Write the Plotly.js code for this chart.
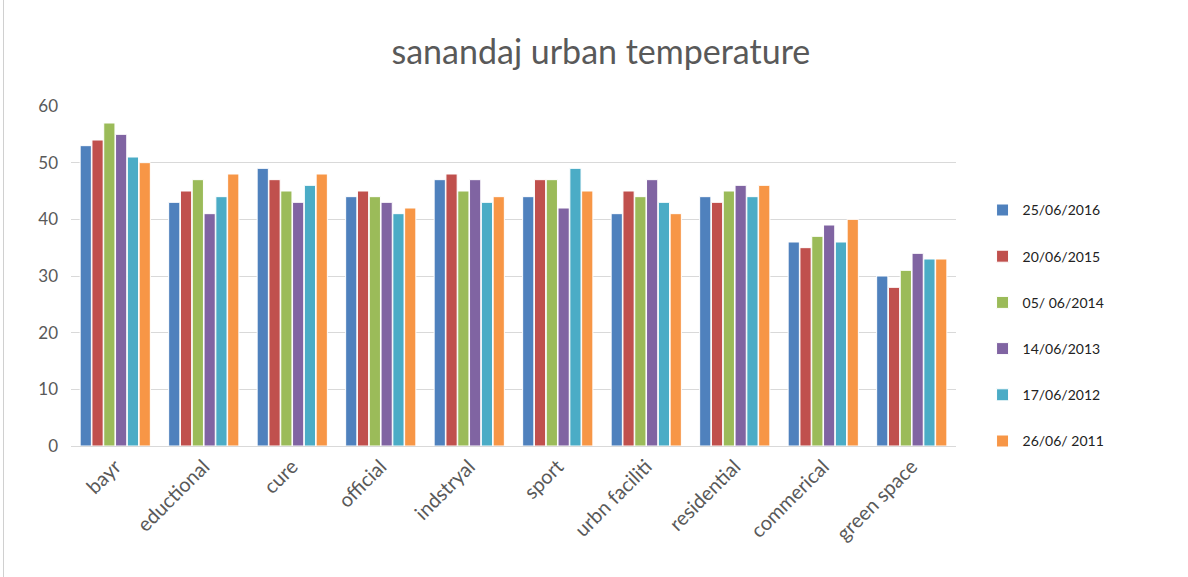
<!DOCTYPE html>
<html>
<head>
<meta charset="utf-8">
<script src="https://cdn.plot.ly/plotly-3.0.1.min.js"></script>
<style>
  html, body { margin: 0; padding: 0; background: #fff; }
  #chart { height: 577px; box-sizing: border-box; border-left: 1px solid #d0d0d0; border-right: 1px solid #d0d0d0; margin-left: 3px; width: 1182px; }
</style>
</head>
<body>
<div id="chart"></div>
<script>
const categories = ["bayr", "eductional", "cure", "official", "indstryal", "sport", "urbn faciliti", "residential", "commerical", "green space"];
const seriesNames = ["25/06/2016", "20/06/2015", "05/ 06/2014", "14/06/2013", "17/06/2012", "26/06/ 2011"];
const d2016 = [53, 43, 49, 44, 47, 44, 41, 44, 36, 30];
const d2015 = [54, 45, 47, 45, 48, 47, 45, 43, 35, 28];
const d2014 = [57, 47, 45, 44, 45, 47, 44, 45, 37, 31];
const d2013 = [55, 41, 43, 43, 47, 42, 47, 46, 39, 34];
const d2012 = [51, 44, 46, 41, 43, 49, 43, 44, 36, 33];
const d2011 = [50, 48, 48, 42, 44, 45, 41, 46, 40, 33];

const colors = ["#4f81bd", "#c0504d", "#9bbb59", "#8064a2", "#4bacc6", "#f79646"];
const allValues = [d2016, d2015, d2014, d2013, d2012, d2011];

const traces = allValues.map((vals, i) => ({
  type: "bar",
  x: categories,
  y: vals,
  name: seriesNames[i],
  legendgroup: "g" + i,
  marker: { color: colors[i], line: { color: "#ffffff", width: 1 } },
  hoverinfo: "x+y+name",
}));

const layout = {
  paper_bgcolor: "#ffffff",
  plot_bgcolor: "#ffffff",
  font: { family: "Lato, 'Open Sans', sans-serif", color: "#595959", size: 16 },
  margin: { l: 67, r: 230, t: 106, b: 131 },
  title: { text: "sanandaj urban temperature", x: 0.505, xanchor: "center", y: 0.91, yanchor: "middle", font: { size: 34, color: "#595959" } },
  barmode: "group",
  bargap: 0.2,
  bargroupgap: 0.05,
  xaxis: { tickangle: -45, showgrid: false, showline: true, linecolor: "#d9d9d9", linewidth: 1, ticks: "", tickfont: { size: 20 } },
  yaxis: { range: [0, 60], dtick: 10, gridcolor: "#d9d9d9", gridwidth: 1, zeroline: false, ticks: "", ticklabelstandoff: 12, tickfont: { size: 17 } },
  legend: { x: 1.03, xanchor: "left", y: 0.74, yanchor: "top", tracegroupgap: 25, font: { size: 14, color: "#222222" } },
  showlegend: true,
};

Plotly.newPlot("chart", traces, layout, { displayModeBar: false });
</script>
</body>
</html>
